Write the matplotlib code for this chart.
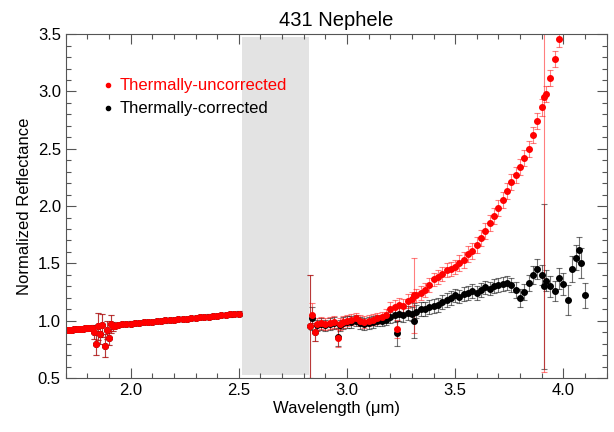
import numpy as np
import matplotlib
matplotlib.use('Agg')
import matplotlib.pyplot as plt
from matplotlib.ticker import MultipleLocator

plt.rcParams['font.family'] = ['Liberation Sans', 'DejaVu Sans']

# espectro corto (igual para ambas series)
wl_short = [1.70, 1.71, 1.72, 1.73, 1.74, 1.75, 1.76, 1.77, 1.78, 1.79, 1.80, 1.81,
            1.82, 1.83, 1.84, 1.85, 1.86, 1.87, 1.88, 1.89, 1.90, 1.91, 1.92, 1.93,
            1.94, 1.96, 1.98, 2.00, 2.02, 2.04, 2.06,
            2.08, 2.10, 2.12, 2.14, 2.16, 2.18, 2.20, 2.22, 2.24, 2.26, 2.28, 2.30,
            2.32, 2.34, 2.36, 2.38, 2.40, 2.42, 2.44, 2.46, 2.48, 2.50]
refl_short = [0.915, 0.917, 0.918, 0.921, 0.924, 0.925, 0.926, 0.929, 0.930, 0.932, 0.934, 0.936,
              0.938, 0.90, 0.80, 0.95, 0.88, 0.96, 0.78, 0.92, 0.85, 0.97, 0.95, 0.958,
              0.962, 0.968, 0.972, 0.975, 0.978, 0.982, 0.985,
              0.990, 0.992, 0.995, 1.000, 1.002, 1.006, 1.008, 1.012, 1.016, 1.018, 1.022, 1.025,
              1.030, 1.032, 1.036, 1.040, 1.043, 1.046, 1.050, 1.054, 1.058, 1.062]
err_short = [0.018, 0.018, 0.018, 0.018, 0.018, 0.018, 0.018, 0.018, 0.018, 0.018, 0.018, 0.02,
             0.02, 0.06, 0.10, 0.12, 0.08, 0.10, 0.10, 0.08, 0.06, 0.08, 0.04, 0.02,
             0.018, 0.018, 0.018, 0.018, 0.018, 0.018, 0.018,
             0.018, 0.018, 0.018, 0.018, 0.018, 0.018, 0.018, 0.018, 0.018, 0.018, 0.018, 0.018,
             0.018, 0.018, 0.018, 0.018, 0.018, 0.018, 0.018, 0.018, 0.018, 0.02]

# espectro largo sin corrección térmica
wl_unc = [2.83, 2.84, 2.85, 2.86, 2.88, 2.90, 2.92, 2.94, 2.96, 2.97, 2.98, 3.00,
          3.02, 3.04, 3.06, 3.08, 3.10, 3.12, 3.14, 3.16, 3.18, 3.20, 3.22, 3.23,
          3.24, 3.26, 3.28, 3.30, 3.31, 3.32, 3.34, 3.36, 3.38, 3.40, 3.42, 3.44,
          3.46, 3.48, 3.50, 3.52, 3.54, 3.56, 3.58, 3.60, 3.62, 3.64, 3.66, 3.68,
          3.70, 3.72, 3.74, 3.76, 3.78, 3.80, 3.82, 3.84, 3.86, 3.88, 3.90, 3.91,
          3.92, 3.94, 3.96, 3.98, 4.00]
refl_unc = [0.95, 1.05, 0.90, 0.97, 0.98, 0.97, 0.98, 0.99, 0.85, 0.97, 0.99, 1.00,
            1.01, 1.02, 1.00, 0.99, 1.00, 1.01, 1.02, 1.03, 1.05, 1.10, 1.12, 0.93,
            1.14, 1.13, 1.17, 1.19, 1.22, 1.22, 1.24, 1.27, 1.31, 1.36, 1.38, 1.41,
            1.44, 1.45, 1.47, 1.50, 1.53, 1.58, 1.61, 1.66, 1.72, 1.78, 1.85, 1.91,
            1.98, 2.05, 2.13, 2.21, 2.27, 2.34, 2.42, 2.50, 2.62, 2.74, 2.86, 2.95,
            2.98, 3.12, 3.28, 3.46, 3.62]
err_unc = [0.45, 0.10, 0.08, 0.05, 0.05, 0.05, 0.05, 0.05, 0.08, 0.05, 0.05, 0.05,
           0.05, 0.05, 0.05, 0.05, 0.05, 0.05, 0.05, 0.05, 0.05, 0.06, 0.06, 0.08,
           0.06, 0.06, 0.06, 0.06, 0.33, 0.06, 0.06, 0.06, 0.06, 0.06, 0.06, 0.06,
           0.06, 0.06, 0.06, 0.07, 0.07, 0.07, 0.07, 0.07, 0.07, 0.07, 0.07, 0.07,
           0.07, 0.07, 0.07, 0.07, 0.07, 0.07, 0.07, 0.07, 0.07, 0.07, 0.07, 2.40,
           0.07, 0.07, 0.07, 0.07, 0.07]

# espectro largo con corrección térmica
wl_cor = [2.83, 2.84, 2.85, 2.86, 2.88, 2.90, 2.92, 2.94, 2.96, 2.97, 2.98, 3.00,
          3.02, 3.04, 3.06, 3.08, 3.10, 3.12, 3.14, 3.16, 3.18, 3.20, 3.22, 3.23,
          3.24, 3.26, 3.28, 3.30, 3.31, 3.32, 3.34, 3.36, 3.38, 3.40, 3.42, 3.44,
          3.46, 3.48, 3.50, 3.52, 3.54, 3.56, 3.58, 3.60, 3.62, 3.64, 3.66, 3.68,
          3.70, 3.72, 3.74, 3.76, 3.78, 3.80, 3.82, 3.84, 3.86, 3.88, 3.90, 3.91,
          3.92, 3.94, 3.96, 3.98, 4.00, 4.02, 4.04, 4.06, 4.07, 4.08, 4.10]
refl_cor = [0.95, 1.02, 0.90, 0.96, 0.97, 0.96, 0.97, 0.98, 0.86, 0.96, 0.98, 0.99,
            0.99, 1.00, 0.98, 0.97, 0.98, 0.99, 1.00, 1.00, 1.01, 1.03, 1.05, 0.89,
            1.06, 1.05, 1.07, 1.06, 1.00, 1.08, 1.10, 1.10, 1.12, 1.13, 1.14, 1.16,
            1.18, 1.20, 1.22, 1.21, 1.23, 1.24, 1.26, 1.24, 1.27, 1.29, 1.28, 1.30,
            1.31, 1.32, 1.33, 1.31, 1.27, 1.20, 1.25, 1.33, 1.40, 1.45, 1.40, 1.30,
            1.35, 1.30, 1.26, 1.37, 1.32, 1.18, 1.45, 1.55, 1.62, 1.50, 1.22]
err_cor = [0.45, 0.10, 0.08, 0.05, 0.05, 0.05, 0.05, 0.05, 0.08, 0.05, 0.05, 0.05,
           0.05, 0.05, 0.05, 0.05, 0.05, 0.05, 0.05, 0.05, 0.05, 0.05, 0.06, 0.11,
           0.06, 0.06, 0.06, 0.06, 0.15, 0.06, 0.06, 0.06, 0.06, 0.06, 0.06, 0.06,
           0.06, 0.06, 0.06, 0.06, 0.06, 0.06, 0.06, 0.06, 0.06, 0.06, 0.06, 0.06,
           0.06, 0.06, 0.06, 0.06, 0.07, 0.08, 0.07, 0.07, 0.08, 0.09, 0.09, 0.72,
           0.09, 0.09, 0.09, 0.09, 0.10, 0.13, 0.11, 0.11, 0.11, 0.13, 0.11]

fig = plt.figure(figsize=(6.14, 4.32), dpi=100)
ax = fig.add_axes([0.107, 0.125, 0.881, 0.796])

# zona sin datos
ax.axvspan(2.515, 2.825, ymin=0.008, ymax=0.992, color='#e3e3e3', lw=0, zorder=0)

estilo = dict(fmt='o', ms=4, capsize=2, elinewidth=0.8, capthick=0.8)
# corregido (negro) debajo
ax.errorbar(wl_short, refl_short, yerr=err_short, color='black', ecolor=(0, 0, 0, 0.55), **estilo)
ax.errorbar(wl_cor, refl_cor, yerr=err_cor, color='black', ecolor=(0, 0, 0, 0.55), **estilo)
# sin corregir (rojo) encima
ax.errorbar(wl_short, refl_short, yerr=err_short, color='red', ecolor=(1, 0, 0, 0.5), **estilo)
ax.errorbar(wl_unc, refl_unc, yerr=err_unc, color='red', ecolor=(1, 0, 0, 0.5), **estilo)

ax.set_xlim(1.70, 4.20)
ax.set_ylim(0.5, 3.5)
ax.xaxis.set_major_locator(MultipleLocator(0.5))
ax.xaxis.set_minor_locator(MultipleLocator(0.1))
ax.yaxis.set_major_locator(MultipleLocator(0.5))
ax.yaxis.set_minor_locator(MultipleLocator(0.1))
ax.xaxis.set_major_formatter(plt.FormatStrFormatter('%.1f'))
ax.yaxis.set_major_formatter(plt.FormatStrFormatter('%.1f'))
ax.tick_params(which='both', direction='in', top=True, right=True, labelsize=12,
               color='#555555', width=0.8)
ax.tick_params(which='major', length=7)
ax.tick_params(which='minor', length=3.5)
for s in ax.spines.values():
    s.set_color('#555555')
    s.set_linewidth(0.8)

ax.set_title('431 Nephele', fontsize=14.5, pad=6)
ax.set_xlabel('Wavelength (μm)', fontsize=12, labelpad=2)
ax.set_ylabel('Normalized Reflectance', fontsize=12)

# leyenda a mano
ax.plot([0.078], [0.852], 'o', color='red', ms=3, transform=ax.transAxes)
ax.text(0.100, 0.852, 'Thermally-uncorrected', color='red', fontsize=12,
        va='center', transform=ax.transAxes)
ax.plot([0.078], [0.785], 'o', color='black', ms=3, transform=ax.transAxes)
ax.text(0.100, 0.785, 'Thermally-corrected', color='black', fontsize=12,
        va='center', transform=ax.transAxes)

fig.savefig('out.png', dpi=100)
